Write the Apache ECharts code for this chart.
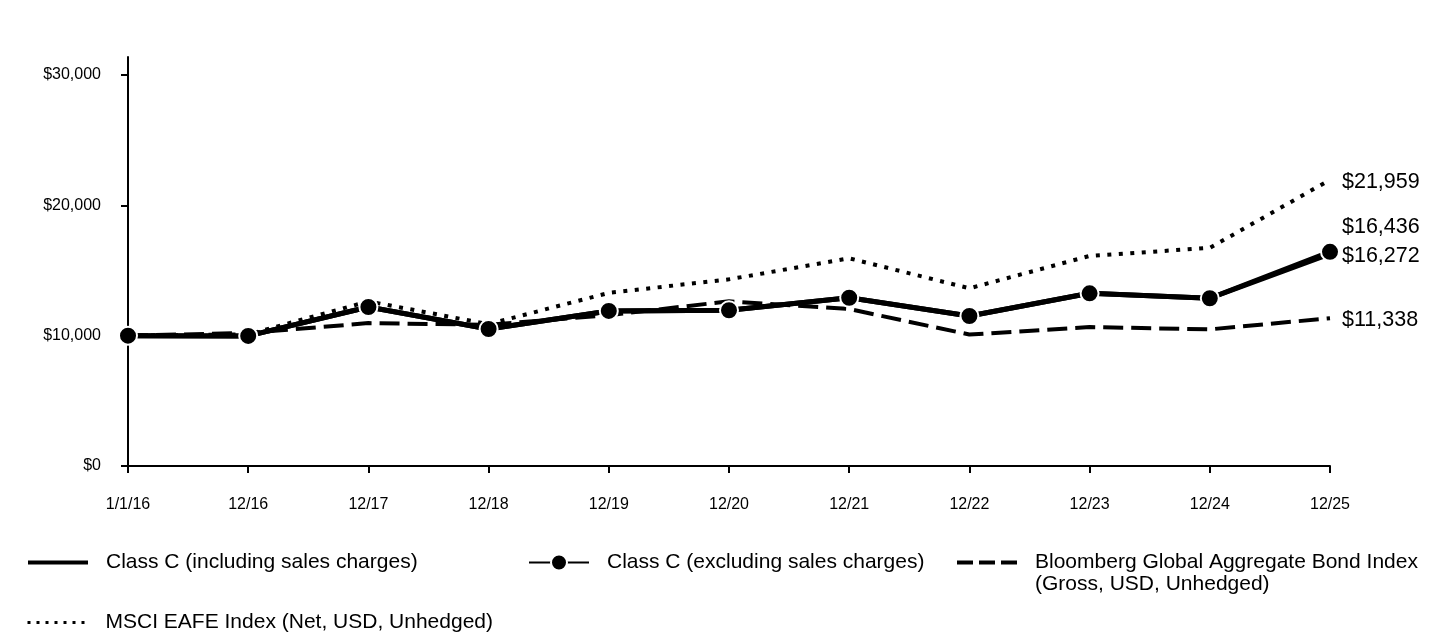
<!DOCTYPE html>
<html><head><meta charset="utf-8">
<script src="https://cdn.jsdelivr.net/npm/echarts@6/dist/echarts.min.js"></script>
<style>html,body{margin:0;padding:0;background:#fff}#c{width:1440px;height:636px}</style>
</head><body><div id="c"></div>
<script>
const categories = ['1/1/16','12/16','12/17','12/18','12/19','12/20','12/21','12/22','12/23','12/24','12/25'];
const classCIncl = [10000, 9980, 12200, 10510, 11900, 11950, 12910, 11510, 13250, 12870, 16272];
const classCExcl = [10000, 9980, 12200, 10510, 11900, 11950, 12910, 11510, 13250, 12870, 16436];
const bloomberg  = [10000, 10209, 10963, 10832, 11573, 12638, 12043, 10086, 10663, 10483, 11338];
const msci       = [10000, 10100, 12629, 10887, 13284, 14323, 15936, 13633, 16120, 16736, 21959];
const yTicks = [0, 10000, 20000, 30000];

const names = {
  incl: 'Class C (including sales charges)',
  excl: 'Class C (excluding sales charges)',
  bbg: 'Bloomberg Global Aggregate Bond Index',
  msci: 'MSCI EAFE Index (Net, USD, Unhedged)'
};
const FONT = 'Arial, "Liberation Sans", sans-serif';
const money = v => '$' + Number(v).toLocaleString('en-US');

const chart = echarts.init(document.getElementById('c'), null, {renderer: 'canvas'});
const endLabel = (extra) => Object.assign({
  show: true, color: '#000', fontSize: 21.5, fontFamily: FONT, distance: 12,
  formatter: p => money(p.value)
}, extra || {});

const legendBase = (name, left, top, extra) => Object.assign({
  data: [name], left: left, top: top, orient: 'horizontal',
  itemWidth: 60, itemHeight: 16, selectedMode: false,
  itemStyle: {opacity: 0},
  textStyle: {color: '#000', fontSize: 21, fontFamily: FONT, padding: [0, 0, 0, 13]}
}, extra || {});

chart.setOption({
  animation: false,
  backgroundColor: '#fff',
  grid: {left: 128, right: 110, top: 57, bottom: 170, containLabel: false},
  xAxis: {
    type: 'category', data: categories, boundaryGap: false,
    axisLine: {lineStyle: {color: '#000', width: 2}},
    axisTick: {show: true, alignWithLabel: true, length: 7, lineStyle: {color: '#000', width: 2}},
    axisLabel: {color: '#000', fontSize: 16, fontFamily: FONT, margin: 31}
  },
  yAxis: {
    type: 'value', min: 0, max: 31381,
    axisLine: {show: true, lineStyle: {color: '#000', width: 2}},
    axisTick: {show: true, length: 7, lineStyle: {color: '#000', width: 2}, customValues: yTicks},
    axisLabel: {color: '#000', fontSize: 16, fontFamily: FONT, margin: 27, formatter: v => money(v), customValues: yTicks},
    splitLine: {show: false}
  },
  legend: [
    legendBase(names.incl, 21, 547, {lineStyle: {width: 4}}),
    legendBase(names.excl, 523, 547, {itemHeight: 20, itemStyle: {opacity: 1}, lineStyle: {width: 2}}),
    legendBase(names.bbg, 950, 547, {lineStyle: {width: 4, type: [16, 6]}}),
    legendBase(names.msci, 21, 607, {lineStyle: {width: 3, type: [3, 6]}})
  ],
  graphic: [{
    type: 'text', left: 1035, top: 574,
    style: {text: '(Gross, USD, Unhedged)', fill: '#000', font: '21px ' + FONT}
  }],
  series: [
    {
      name: names.msci, type: 'line', data: msci, symbol: 'none',
      lineStyle: {color: '#000', width: 4, type: [4, 7.5]}, itemStyle: {color: '#000'},
      endLabel: endLabel({offset: [0, 2]}), z: 2
    },
    {
      name: names.bbg, type: 'line', data: bloomberg, symbol: 'none',
      lineStyle: {color: '#000', width: 4, type: [20, 8]}, itemStyle: {color: '#000'},
      endLabel: endLabel({offset: [0, 2]}), z: 2
    },
    {
      name: names.incl, type: 'line', data: classCIncl, symbol: 'none',
      lineStyle: {color: '#000', width: 5}, itemStyle: {color: '#000'},
      endLabel: endLabel({offset: [0, 2]}), z: 3
    },
    {
      name: names.excl, type: 'line', data: classCExcl, symbol: 'circle', symbolSize: 18,
      lineStyle: {color: '#000', width: 5},
      itemStyle: {color: '#000', borderColor: '#fff', borderWidth: 2},
      endLabel: endLabel({offset: [0, -25]}), z: 4
    }
  ]
});
</script></body></html>
